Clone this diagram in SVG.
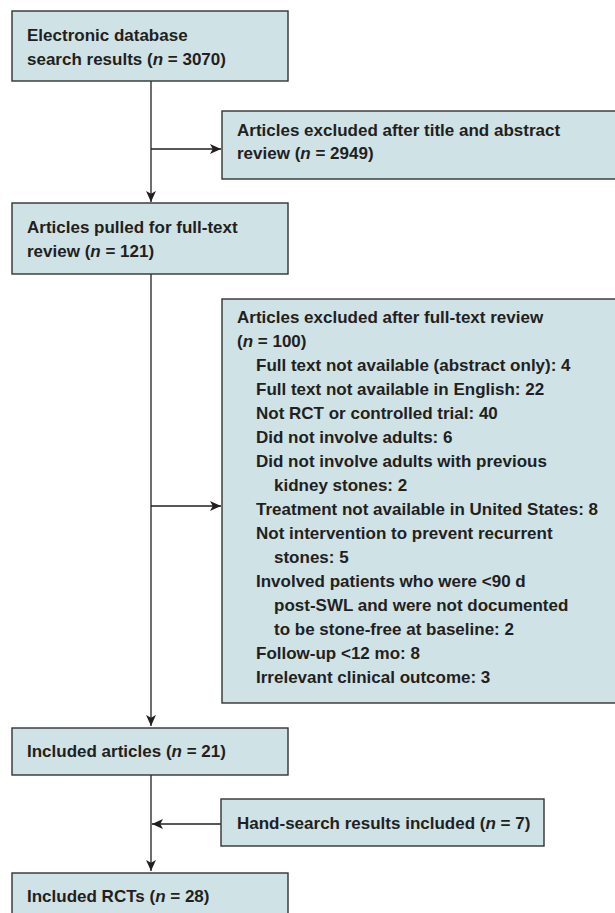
<svg xmlns="http://www.w3.org/2000/svg" width="615" height="913" viewBox="0 0 615 913">
<style>
.box{fill:#cfe2e6;stroke:#333;stroke-width:1.4}
.t{font-family:"Liberation Sans",Arial,sans-serif;font-weight:bold;font-size:17px;fill:#231f20}
.i{font-style:italic}
.ln{fill:none;stroke:#231f20;stroke-width:1.3}
</style>
<defs>
<marker id="ah" viewBox="0 0 10 10" refX="10" refY="5" markerWidth="11" markerHeight="11" markerUnits="userSpaceOnUse" orient="auto">
<path d="M0,0.5 L10,5 L0,9.5 L2.5,5 z" fill="#231f20"/>
</marker>
</defs>
<g id="connectors">
<line class="ln" x1="151" y1="81" x2="151" y2="202" marker-end="url(#ah)"/>
<line class="ln" x1="151" y1="149" x2="221" y2="149" marker-end="url(#ah)"/>
<line class="ln" x1="151" y1="274" x2="151" y2="726" marker-end="url(#ah)"/>
<line class="ln" x1="151" y1="506" x2="221" y2="506" marker-end="url(#ah)"/>
<line class="ln" x1="151" y1="775" x2="151" y2="871" marker-end="url(#ah)"/>
<line class="ln" x1="221" y1="824" x2="152" y2="824" marker-end="url(#ah)"/>
</g>
<g id="n1">
<rect class="box" x="12" y="11" width="276" height="70"/>
<text class="t" x="27" y="41">Electronic database</text>
<text class="t" x="27" y="65">search results (<tspan class="i">n</tspan> = 3070)</text>
</g>
<g id="n2">
<rect class="box" x="222" y="111" width="400" height="68"/>
<text class="t" x="237" y="136">Articles excluded after title and abstract</text>
<text class="t" x="237" y="159">review (<tspan class="i">n</tspan> = 2949)</text>
</g>
<g id="n3">
<rect class="box" x="12" y="203" width="276" height="71"/>
<text class="t" x="27" y="233">Articles pulled for full-text</text>
<text class="t" x="27" y="257">review (<tspan class="i">n</tspan> = 121)</text>
</g>
<g id="n4">
<rect class="box" x="222" y="299" width="400" height="404"/>
<text class="t" x="237" y="323">Articles excluded after full-text review</text>
<text class="t" x="237" y="347">(<tspan class="i">n</tspan> = 100)</text>
<text class="t" x="256" y="371">Full text not available (abstract only): 4</text>
<text class="t" x="256" y="395">Full text not available in English: 22</text>
<text class="t" x="256" y="419">Not RCT or controlled trial: 40</text>
<text class="t" x="256" y="443">Did not involve adults: 6</text>
<text class="t" x="256" y="467">Did not involve adults with previous</text>
<text class="t" x="274" y="491">kidney stones: 2</text>
<text class="t" x="256" y="515">Treatment not available in United States: 8</text>
<text class="t" x="256" y="539">Not intervention to prevent recurrent</text>
<text class="t" x="274" y="563">stones: 5</text>
<text class="t" x="256" y="587">Involved patients who were &lt;90 d</text>
<text class="t" x="274" y="611">post-SWL and were not documented</text>
<text class="t" x="274" y="635">to be stone-free at baseline: 2</text>
<text class="t" x="256" y="659">Follow-up &lt;12 mo: 8</text>
<text class="t" x="256" y="683">Irrelevant clinical outcome: 3</text>
</g>
<g id="n5">
<rect class="box" x="12" y="728" width="276" height="47"/>
<text class="t" x="27" y="757">Included articles (<tspan class="i">n</tspan> = 21)</text>
</g>
<g id="n6">
<rect class="box" x="221" y="799" width="323" height="47"/>
<text class="t" x="237" y="829">Hand-search results included (<tspan class="i">n</tspan> = 7)</text>
</g>
<g id="n7">
<rect class="box" x="12" y="873" width="276" height="60"/>
<text class="t" x="27" y="902">Included RCTs (<tspan class="i">n</tspan> = 28)</text>
</g>
</svg>
